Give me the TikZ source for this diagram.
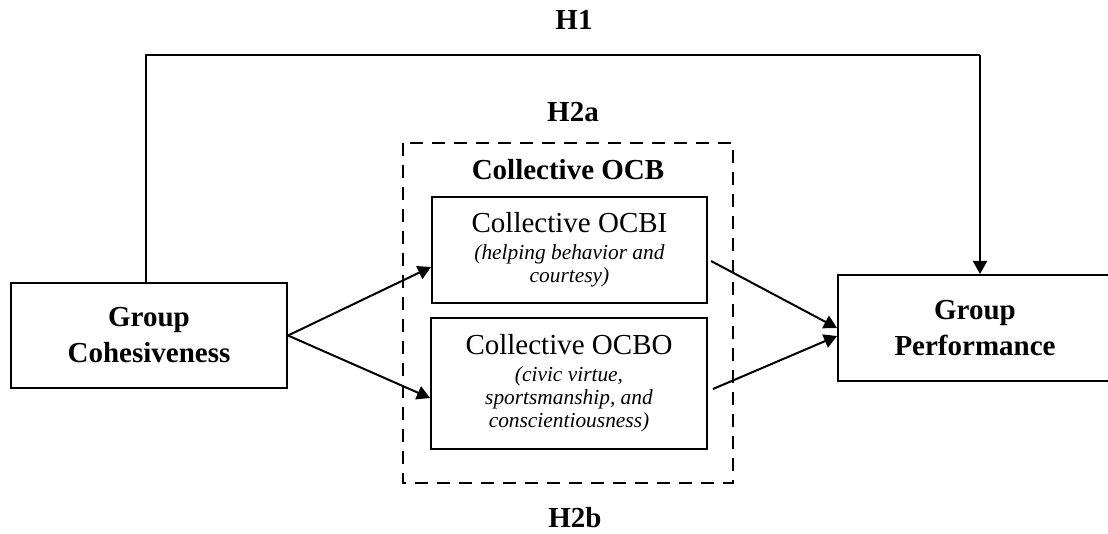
\documentclass[tikz,border=0pt]{standalone}
\usepackage{fontspec}
\setmainfont{Liberation Serif}
\usepackage{tikz}
\usetikzlibrary{arrows.meta,positioning,calc}

\newcommand{\subtxt}{\fontsize{10.7pt}{11.7pt}\selectfont\itshape}

\begin{document}
\begin{tikzpicture}[
  x=0.5pt, y=-0.5pt,
  every node/.style={font=\fontsize{14.5pt}{18pt}\selectfont},
  box/.style={rectangle, draw=black, line width=1pt, inner sep=0pt,
    align=flush center, text width=134pt},
  hyp/.style={font=\fontsize{14.5pt}{18pt}\selectfont\bfseries, anchor=base},
  link/.style={-{Triangle[length=6.5pt,width=7pt]}, line width=1pt}
]
\useasboundingbox (0,0) rectangle (1108,534);

% Outer variables
\node[box, minimum width=138pt, minimum height=52.5pt,
  font=\fontsize{14.5pt}{18pt}\selectfont\bfseries] (coh) at (149,335.5)
  {Group\\ Cohesiveness};
\node[box, minimum width=137pt, minimum height=53pt,
  font=\fontsize{14.5pt}{18pt}\selectfont\bfseries] (perf) at (975,328)
  {Group\\ Performance};

% Mediator block
\draw[dash pattern=on 6.5pt off 4.5pt, line width=1pt]
  (403,143) rectangle (733,483);
\node[hyp] (ocb) at (568,180) {Collective OCB};
\node[box, minimum width=137.5pt, minimum height=53pt]
  (ocbi) at (569.5,250)
  {Collective OCBI\par\vspace{1.6pt}
   \subtxt (helping behavior and\\ courtesy)\par};
\node[box, minimum width=138pt, minimum height=65.5pt]
  (ocbo) at (569,383.5)
  {Collective OCBO\par\vspace{1.6pt}
   \subtxt (civic virtue,\\ sportsmanship, and\\ conscientiousness)\par};

% Hypothesis labels
\node[hyp] (h1) at (574,30) {H1};
\node[hyp] (h2a) at (573,122) {H2a};
\node[hyp] (h2b) at (575,527) {H2b};

% H1 path
\coordinate (h1l) at (146,55);
\coordinate (h1r) at (980,55);
\draw[line width=0.6pt] (coh.north -| h1l) -- (h1l) -- (h1r);
\draw[link] (h1r) -- (h1r |- perf.north);

% Mediated paths
\draw[link] (coh.east) -- ([yshift=-8.5pt]ocbi.west);
\draw[link] (coh.east) -- ([yshift=-7.25pt]ocbo.west);
\draw[link] ([xshift=1.5pt,yshift=-5.5pt]ocbi.east) -- (perf.west);
\draw[link] ([xshift=2.5pt,yshift=-2.75pt]ocbo.east) -- ([yshift=-4pt]perf.west);

\end{tikzpicture}
\end{document}
